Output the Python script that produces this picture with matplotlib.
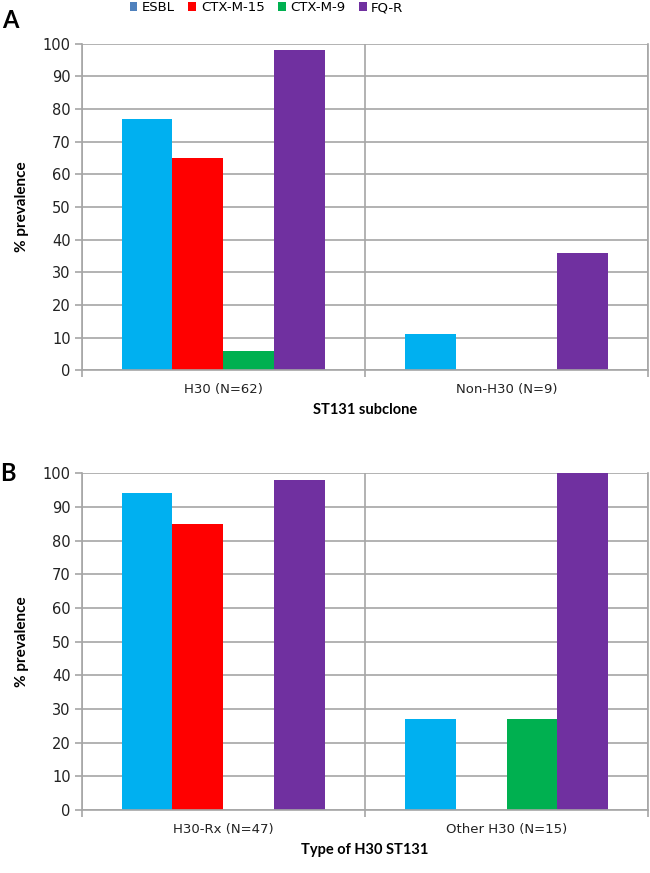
import numpy as np
import matplotlib
matplotlib.use("Agg")
import matplotlib.pyplot as plt

# data
series = ["ESBL", "CTX-M-15", "CTX-M-9", "FQ-R"]
colors = ["#00B0F0", "#FF0000", "#00B050", "#7030A0"]

cats_a = ["H30 (N=62)", "Non-H30 (N=9)"]
esbl_a = [77, 11]
ctx15_a = [65, 0]
ctx9_a = [6, 0]
fqr_a = [98, 36]

cats_b = ["H30-Rx (N=47)", "Other H30 (N=15)"]
esbl_b = [94, 27]
ctx15_b = [85, 0]
ctx9_b = [0, 27]
fqr_b = [98, 100]

GRID = "#A6A6A6"
BOLD = "Lato"


def draw_panel(ax, cats, values, xlabel):
    x = np.arange(len(cats))
    w = 0.18
    bars = []
    for i, (vals, col, name) in enumerate(zip(values, colors, series)):
        b = ax.bar(x + (i - 1.5) * w, vals, w, color=col, label=name, zorder=2)
        bars.append(b)
    ax.set_xlim(-0.5, len(cats) - 0.5)
    ax.set_ylim(0, 100)
    ax.set_yticks(range(0, 101, 10))
    ax.set_xticks(x)
    ax.set_xticklabels(cats, fontsize=9.5, color="#222222")
    ax.set_xticks(np.arange(-0.5, len(cats), 1.0), minor=True)
    ax.tick_params(axis="x", which="major", length=0, pad=9)
    ax.tick_params(axis="x", which="minor", length=5, color=GRID, width=1.2)
    ax.tick_params(axis="y", length=5, color=GRID, width=1.2, labelsize=10.5,
                   labelcolor="#222222", pad=3)
    ax.grid(axis="y", color=GRID, linewidth=1.2, zorder=0)
    ax.grid(axis="x", which="minor", color=GRID, linewidth=1.2, zorder=0)
    ax.set_axisbelow(True)
    for s in ["left", "bottom", "right"]:
        ax.spines[s].set_color(GRID)
        ax.spines[s].set_linewidth(1.2)
    ax.spines["top"].set_visible(False)
    ax.set_ylabel("% prevalence", fontsize=11, fontweight="bold",
                  family=BOLD, labelpad=10)
    ax.set_xlabel(xlabel, fontsize=10.5, fontweight="bold", family=BOLD,
                  labelpad=5)
    return bars


fig = plt.figure(figsize=(6.5, 8.73), dpi=100)
ax_a = fig.add_axes([0.126, 0.576, 0.871, 0.374])
ax_b = fig.add_axes([0.126, 0.072, 0.871, 0.386])

bars = draw_panel(ax_a, cats_a, [esbl_a, ctx15_a, ctx9_a, fqr_a], "ST131 subclone")
draw_panel(ax_b, cats_b, [esbl_b, ctx15_b, ctx9_b, fqr_b], "Type of H30 ST131")

leg = fig.legend(handles=bars, labels=series, loc="center", ncol=4,
                 bbox_to_anchor=(0.41, 0.991), frameon=False, fontsize=9.5,
                 handlelength=0.6, handleheight=0.7, handletextpad=0.35,
                 columnspacing=1.0)
# excel draws the ESBL legend key in a different blue
leg.legend_handles[0].set_facecolor("#4F81BD")

fig.text(0.003, 0.977, "A", fontsize=17, fontweight="bold", family=BOLD,
         va="center", ha="left")
fig.text(0.0, 0.458, "B", fontsize=17, fontweight="bold", family=BOLD,
         va="center", ha="left")

fig.savefig("out.png", dpi=100)
